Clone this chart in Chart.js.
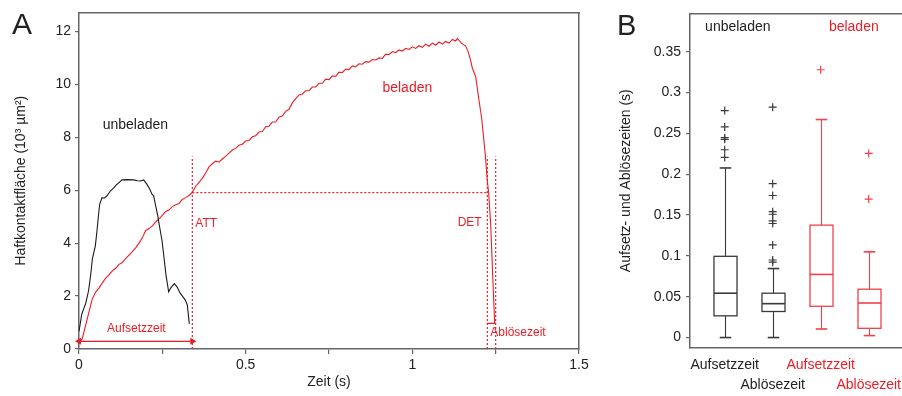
<!DOCTYPE html>
<html>
<head>
<meta charset="utf-8">
<script src="https://cdn.jsdelivr.net/npm/chart.js@4.4.1/dist/chart.umd.min.js"></script>
<style>
html, body { margin: 0; padding: 0; background: #fff; }
#wrap { position: relative; width: 902px; height: 396px; overflow: hidden; }
#chartA { position: absolute; left: 0; top: 0; }
#chartB { position: absolute; left: 600px; top: 0; }
</style>
</head>
<body>
<div id="wrap">
  <canvas id="chartA" width="600" height="396"></canvas>
  <canvas id="chartB" width="302" height="396"></canvas>
</div>
<script>
// ---- panel A data (Zeit in s, Fläche in 10^3 µm²) ----
var unbeladenTime = [0, 0.008, 0.012, 0.02, 0.029, 0.036, 0.04, 0.049, 0.054, 0.058, 0.062, 0.069, 0.076, 0.084, 0.094, 0.105, 0.112, 0.119, 0.129, 0.145, 0.164, 0.175, 0.184, 0.194, 0.204, 0.212, 0.219, 0.224, 0.229, 0.236, 0.242, 0.249, 0.256, 0.261, 0.269, 0.276, 0.286, 0.294, 0.304, 0.319, 0.325, 0.331];
var unbeladenArea = [0.66, 1.3, 1.45, 1.72, 2.22, 2.9, 3.4, 3.9, 4.47, 5.0, 5.47, 5.72, 5.7, 5.79, 5.97, 6.1, 6.2, 6.28, 6.39, 6.4, 6.39, 6.36, 6.35, 6.39, 6.22, 6.05, 5.85, 5.79, 5.47, 5.05, 4.6, 4.1, 3.35, 2.79, 2.16, 2.32, 2.47, 2.35, 2.1, 1.85, 1.66, 0.95];

var beladenTime = [0, 0.01, 0.02, 0.03, 0.04, 0.05, 0.06, 0.07, 0.08, 0.09, 0.1, 0.11, 0.12, 0.13, 0.14, 0.15, 0.16, 0.17, 0.18, 0.19, 0.2, 0.21, 0.22, 0.23, 0.24, 0.25, 0.26, 0.27, 0.28, 0.29, 0.3, 0.31, 0.32, 0.33, 0.34, 0.35, 0.36, 0.37, 0.38, 0.39,
  0.4, 0.41, 0.42, 0.43, 0.44, 0.45, 0.46, 0.47, 0.48, 0.49, 0.5, 0.51, 0.52, 0.53, 0.54, 0.55, 0.56, 0.57, 0.58, 0.59, 0.6, 0.61, 0.62, 0.63, 0.64, 0.65, 0.66, 0.67, 0.68, 0.69, 0.7, 0.71, 0.72, 0.73, 0.74, 0.75, 0.76, 0.77, 0.78, 0.79,
  0.8, 0.81, 0.82, 0.83, 0.84, 0.85, 0.86, 0.87, 0.88, 0.89, 0.9, 0.91, 0.92, 0.93, 0.94, 0.95, 0.96, 0.97, 0.98, 0.99, 1.0, 1.01, 1.02, 1.03, 1.04, 1.05, 1.06, 1.07, 1.08, 1.09, 1.1, 1.11, 1.12, 1.13, 1.135,
  1.148, 1.16, 1.168, 1.175, 1.18, 1.19, 1.2, 1.208, 1.218, 1.225, 1.229, 1.235, 1.241, 1.247];
var beladenArea = [0.22, 0.4, 0.9, 1.4, 1.9, 2.15, 2.3, 2.5, 2.68, 2.8, 2.95, 3.05, 3.2, 3.27, 3.42, 3.55, 3.68, 3.82, 4.0, 4.2, 4.48, 4.55, 4.65, 4.8, 4.92, 5.05, 5.2, 5.25, 5.38, 5.45, 5.5, 5.65, 5.72, 5.8, 5.92, 6.15, 6.3, 6.45, 6.65, 6.88,
  7.0, 7.1, 7.06, 7.18, 7.28, 7.4, 7.52, 7.58, 7.7, 7.74, 7.86, 7.88, 8.02, 8.06, 8.2, 8.22, 8.4, 8.42, 8.58, 8.58, 8.76, 8.8, 8.98, 9.06, 9.3, 9.46, 9.6, 9.64, 9.76, 9.76, 9.9, 9.9, 10.04, 10.04, 10.2, 10.18, 10.32, 10.3, 10.46, 10.44,
  10.58, 10.56, 10.7, 10.66, 10.78, 10.76, 10.86, 10.84, 10.94, 10.92, 11.0, 10.98, 11.14, 11.12, 11.24, 11.2, 11.3, 11.26, 11.36, 11.32, 11.42, 11.36, 11.46, 11.4, 11.52, 11.44, 11.56, 11.48, 11.6, 11.52, 11.62, 11.56, 11.7, 11.64, 11.74,
  11.55, 11.45, 11.22, 10.9, 10.62, 10.3, 9.4, 8.72, 7.47, 6.35, 5.9, 4.72, 2.8, 0.97];

var attTime = 0.34;       // Aufsetzen
var detTime = 1.225;      // Ablösen beginnt
var detEndTime = 1.25;    // Ablösen Ende
var markLevel = 5.91;     // Fläche bei ATT / DET
var markTop = 7.27;
var arrowLevel = 0.29;
var bracketLevel = 0.97;

var xTicksA = [0, 0.25, 0.5, 0.75, 1, 1.25, 1.5];
var xLabelsA = ['0', '', '0.5', '', '1', '', '1.5'];
var yTicksA = [0, 2, 4, 6, 8, 10, 12];

// ---- panel B data (Zeiten in s) ----
var boxCategories = ['Aufsetzzeit', 'Ablösezeit', 'Aufsetzzeit', 'Ablösezeit'];
var boxPos = [1, 2, 3, 4];
var boxMin = [0, 0, 0.0105, 0.0024];
var boxQ1 = [0.0266, 0.0319, 0.0383, 0.0113];
var boxMed = [0.0543, 0.0415, 0.0773, 0.0423];
var boxQ3 = [0.0995, 0.0543, 0.1377, 0.0592];
var boxMax = [0.2077, 0.0845, 0.267, 0.105];
var outliers1 = [0.278, 0.258, 0.2448, 0.2428, 0.23, 0.2206];
var outliers2 = [0.2822, 0.1884, 0.174, 0.1542, 0.151, 0.143, 0.1397, 0.1135, 0.095, 0.0923];
var outliers3 = [0.328];
var outliers4 = [0.2255, 0.1696];
var yTicksB = [0, 0.05, 0.1, 0.15, 0.2, 0.25, 0.3, 0.35];

var RED = '#ee1c25';
var BLACK = '#1a1a1a';
var AXIS = '#666';
var FONT = '"Liberation Sans", Arial, sans-serif';
var boxColors = ['#3a3a3a', '#3a3a3a', '#f0404a', '#f0404a'];
var boxWidth = 0.48;

Chart.defaults.font.family = FONT;
Chart.defaults.color = '#222';

function pairs(xs, ys) {
  return xs.map(function (x, i) { return { x: x, y: ys[i] }; });
}

// draws text items, at data values or at pixel spots
var textPlugin = {
  id: 'textLabels',
  afterDraw: function (chart, args, opts) {
    var ctx = chart.ctx;
    var xs = chart.scales.x, ys = chart.scales.y;
    (opts.items || []).forEach(function (it) {
      ctx.save();
      ctx.font = it.size + 'px ' + FONT;
      ctx.fillStyle = it.color;
      ctx.textAlign = it.align || 'center';
      ctx.textBaseline = it.baseline || 'middle';
      var px = it.px != null ? it.px : xs.getPixelForValue(it.x);
      var py = it.py != null ? it.py : ys.getPixelForValue(it.y);
      ctx.fillText(it.text, px, py);
      ctx.restore();
    });
  }
};

// box and whiskers drawn through the scales
var boxPlugin = {
  id: 'boxes',
  beforeDatasetsDraw: function (chart) {
    var ctx = chart.ctx;
    var xs = chart.scales.x, ys = chart.scales.y;
    function seg(x1, y1, x2, y2) {
      ctx.beginPath(); ctx.moveTo(x1, y1); ctx.lineTo(x2, y2); ctx.stroke();
    }
    boxPos.forEach(function (pos, i) {
      var xc = Math.round(xs.getPixelForValue(pos)) + 0.5;
      var half = xs.getPixelForValue(pos + boxWidth / 2) - xs.getPixelForValue(pos);
      var cap = half / 2;
      var yMin = ys.getPixelForValue(boxMin[i]);
      var yQ1 = ys.getPixelForValue(boxQ1[i]);
      var yMed = ys.getPixelForValue(boxMed[i]);
      var yQ3 = ys.getPixelForValue(boxQ3[i]);
      var yMax = ys.getPixelForValue(boxMax[i]);
      ctx.save();
      ctx.strokeStyle = boxColors[i];
      ctx.lineWidth = 1.1;
      seg(xc, yMin, xc, yQ1);
      seg(xc, yQ3, xc, yMax);
      ctx.lineWidth = 1.6;
      seg(xc - cap, yMin, xc + cap, yMin);
      seg(xc - cap, yMax, xc + cap, yMax);
      ctx.lineWidth = 1.3;
      ctx.strokeRect(xc - half, yQ3, 2 * half, yQ1 - yQ3);
      ctx.lineWidth = 1.6;
      seg(xc - half, yMed, xc + half, yMed);
      ctx.restore();
    });
  }
};

var dotted = {
  borderColor: RED, borderWidth: 1.2, borderDash: [2, 2], pointRadius: 0,
  xAxisID: 'x', yAxisID: 'y', showLine: true, fill: false
};

function noSidePad(s) {
  s.paddingLeft = 0;
  s.paddingRight = 0;
}

new Chart(document.getElementById('chartA'), {
  type: 'line',
  data: {
    datasets: [
      Object.assign({}, dotted, { data: [{ x: attTime, y: 0 }, { x: attTime, y: markTop }] }),
      Object.assign({}, dotted, { data: [{ x: attTime, y: markLevel }, { x: detTime, y: markLevel }] }),
      Object.assign({}, dotted, { data: [{ x: detTime, y: 0 }, { x: detTime, y: markTop }] }),
      Object.assign({}, dotted, { data: [{ x: detEndTime, y: 0 }, { x: detEndTime, y: markTop }] }),
      {
        data: [{ x: detTime, y: bracketLevel }, { x: detEndTime, y: bracketLevel }],
        borderColor: RED, borderWidth: 1.2, pointRadius: 0, xAxisID: 'x', yAxisID: 'y'
      },
      {
        data: [{ x: 0, y: arrowLevel }, { x: attTime, y: arrowLevel }],
        borderColor: RED, borderWidth: 1.2, xAxisID: 'x', yAxisID: 'y', clip: false,
        pointStyle: 'triangle', pointRadius: 4, pointRotation: [-90, 90],
        pointBackgroundColor: RED, pointBorderColor: RED, pointBorderWidth: 0
      },
      {
        label: 'unbeladen', data: pairs(unbeladenTime, unbeladenArea),
        borderColor: BLACK, borderWidth: 1.1, pointRadius: 0, tension: 0, xAxisID: 'x', yAxisID: 'y'
      },
      {
        label: 'beladen', data: pairs(beladenTime, beladenArea),
        borderColor: RED, borderWidth: 1.1, pointRadius: 0, tension: 0, xAxisID: 'x', yAxisID: 'y'
      }
    ]
  },
  options: {
    responsive: false,
    animation: false,
    layout: { autoPadding: false, padding: { left: 0, top: 10, right: 21, bottom: 0 } },
    plugins: {
      legend: { display: false },
      tooltip: { enabled: false },
      textLabels: {
        items: [
          { text: 'A', px: 12, py: 34, size: 30, color: '#222', align: 'left', baseline: 'alphabetic' },
          { text: 'unbeladen', x: 0.169, y: 8.47, size: 14, color: '#222' },
          { text: 'beladen', x: 0.985, y: 9.87, size: 14, color: RED },
          { text: 'ATT', x: 0.349, y: 4.75, size: 12, color: RED, align: 'left' },
          { text: 'DET', x: 1.208, y: 4.76, size: 12, color: RED, align: 'right' },
          { text: 'Aufsetzzeit', x: 0.172, y: 0.76, size: 12, color: RED },
          { text: 'Ablösezeit', x: 1.234, y: 0.6, size: 12, color: RED, align: 'left' }
        ]
      }
    },
    scales: {
      x: {
        type: 'linear', position: 'bottom', min: 0, max: 1.5,
        afterBuildTicks: function (s) { s.ticks = xTicksA.map(function (v) { return { value: v }; }); },
        ticks: { padding: 3, font: { size: 14 }, maxRotation: 0, autoSkip: false, callback: function (v, i) { return xLabelsA[i]; } },
        grid: { drawOnChartArea: false, tickLength: 5, color: AXIS, lineWidth: 1.2 },
        border: { color: AXIS, width: 1.5 },
        title: { display: true, text: 'Zeit (s)', font: { size: 14 }, color: '#222', padding: { top: 0, bottom: 5 } },
        afterFit: function (s) { s.height = 47; noSidePad(s); }
      },
      y: {
        type: 'linear', position: 'left', min: 0, max: 12.72,
        afterBuildTicks: function (s) { s.ticks = yTicksA.map(function (v) { return { value: v }; }); },
        ticks: { padding: 4, font: { size: 14 }, callback: function (v) { return String(v); } },
        grid: { drawOnChartArea: false, tickLength: 4, color: AXIS, lineWidth: 1.2 },
        border: { color: AXIS, width: 1.5 },
        title: { display: true, text: 'Haftkontaktfläche (10³ µm²)', font: { size: 14 }, color: '#222', padding: { top: 13, bottom: 0 } },
        afterFit: function (s) { s.width = 79; }
      },
      x2: {
        type: 'linear', position: 'top', min: 0, max: 1.5,
        ticks: { display: false }, grid: { display: false, drawTicks: false },
        border: { color: AXIS, width: 1.5 },
        afterFit: function (s) { s.height = 0; noSidePad(s); }
      },
      y2: {
        type: 'linear', position: 'right', min: 0, max: 12.72,
        ticks: { display: false }, grid: { display: false, drawTicks: false },
        border: { color: AXIS, width: 1.5 },
        afterFit: function (s) { s.width = 0; }
      }
    }
  },
  plugins: [textPlugin]
});

function outlierSet(i, values) {
  return {
    type: 'scatter',
    data: values.map(function (v) { return { x: boxPos[i], y: v }; }),
    pointStyle: 'cross', pointRadius: 4, borderWidth: 1.2,
    borderColor: boxColors[i], backgroundColor: boxColors[i],
    xAxisID: 'x', yAxisID: 'y'
  };
}

var tickColorsB = ['#222', '#222', RED, RED];

new Chart(document.getElementById('chartB'), {
  type: 'scatter',
  data: {
    datasets: [
      outlierSet(0, outliers1),
      outlierSet(1, outliers2),
      outlierSet(2, outliers3),
      outlierSet(3, outliers4)
    ]
  },
  options: {
    responsive: false,
    animation: false,
    layout: { autoPadding: false, padding: { left: 0, top: 9, right: 0, bottom: 0 } },
    plugins: {
      legend: { display: false },
      tooltip: { enabled: false },
      textLabels: {
        items: [
          { text: 'B', px: 17, py: 35, size: 29, color: '#222', align: 'left', baseline: 'alphabetic' },
          { text: 'unbeladen', x: 1.273, y: 0.3797, size: 14, color: '#222' },
          { text: 'beladen', x: 3.69, y: 0.3797, size: 14, color: RED }
        ]
      }
    },
    scales: {
      x: {
        type: 'linear', position: 'bottom', min: 0.277, max: 4.694,
        afterBuildTicks: function (s) { s.ticks = boxPos.map(function (v) { return { value: v }; }); },
        ticks: {
          padding: 7, font: { size: 14, lineHeight: 1.43 }, maxRotation: 0, autoSkip: false,
          color: function (c) { return tickColorsB[c.index]; },
          callback: function (v, i) { return i % 2 === 0 ? [boxCategories[i]] : ['', boxCategories[i]]; }
        },
        grid: { display: false, drawTicks: false },
        border: { color: AXIS, width: 1.5 },
        afterFit: function (s) { s.height = 48; noSidePad(s); }
      },
      y: {
        type: 'linear', position: 'left', min: -0.0128, max: 0.397,
        afterBuildTicks: function (s) { s.ticks = yTicksB.map(function (v) { return { value: v }; }); },
        ticks: { padding: 5, font: { size: 14 }, callback: function (v) { return String(v); } },
        grid: { drawOnChartArea: false, tickLength: 4, color: AXIS, lineWidth: 1.2 },
        border: { color: AXIS, width: 1.5 },
        title: { display: true, text: 'Aufsetz- und Ablösezeiten (s)', font: { size: 14 }, color: '#222', padding: { top: 18, bottom: 0 } },
        afterFit: function (s) { s.width = 90; }
      },
      x2: {
        type: 'linear', position: 'top', min: 0.277, max: 4.694,
        ticks: { display: false }, grid: { display: false, drawTicks: false },
        border: { color: AXIS, width: 1.5 },
        afterFit: function (s) { s.height = 0; noSidePad(s); }
      }
    }
  },
  plugins: [boxPlugin, textPlugin]
});
</script>
</body>
</html>
